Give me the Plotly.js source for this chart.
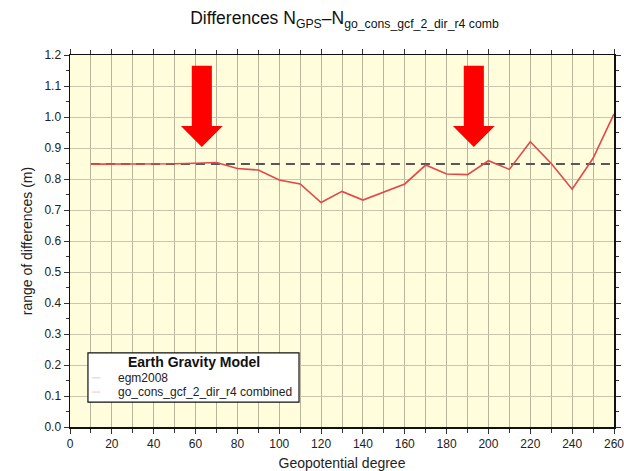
<!DOCTYPE html>
<html>
<head>
<meta charset="utf-8">
<script src="https://cdn.plot.ly/plotly-3.0.1.min.js"></script>
<style>html,body{margin:0;padding:0;background:#fff;}#chart{width:624px;height:471px;}</style>
</head>
<body>
<div id="chart"></div>
<script>
// Data
const degrees = [10,20,30,40,50,60,70,80,90,100,110,120,130,140,150,160,170,180,190,200,210,220,230,240,250,260];
const egm2008 = [0.848,0.848,0.848,0.848,0.848,0.848,0.848,0.848,0.848,0.848,0.848,0.848,0.848,0.848,0.848,0.848,0.848,0.848,0.848,0.848,0.848,0.848,0.848,0.848,0.848,0.848];
const goCons = [0.848,0.848,0.848,0.849,0.849,0.851,0.853,0.834,0.829,0.797,0.784,0.724,0.760,0.732,0.759,0.784,0.845,0.816,0.814,0.859,0.831,0.920,0.850,0.767,0.867,1.010];
const seriesNames = ["egm2008", "go_cons_gcf_2_dir_r4 combined"];
const legendTitle = "Earth Gravity Model";
const legendSwatch = ['#d0d0d0', '#ffc0c0'];
// arrow markers (degree position, tip value)
const arrowDeg = [63, 193];
const arrowTip = [0.903, 0.903];

const arrowShapes = arrowDeg.map((d, i) => {
  const tip = arrowTip[i];
  const top = tip + 0.262, neck = tip + 0.068;
  const sw = 4.8, hw = 10;
  return {
    type: 'path', xref: 'x', yref: 'y', layer: 'above',
    path: `M ${d-sw},${top} L ${d+sw},${top} L ${d+sw},${neck} L ${d+hw},${neck} L ${d},${tip} L ${d-hw},${neck} L ${d-sw},${neck} Z`,
    fillcolor: '#ff0000', line: {width: 0}
  };
});

// custom legend box (paper coords within plot domain)
const legBox = {x0: 0.033, x1: 0.421, y0: 0.067, y1: 0.199};
const entryY = [0.132, 0.094];
const legendShapes = [
  {type: 'rect', xref: 'paper', yref: 'paper', layer: 'above',
   x0: legBox.x0, x1: legBox.x1, y0: legBox.y0, y1: legBox.y1,
   fillcolor: '#ffffff', line: {color: '#111', width: 1.2}}
].concat(seriesNames.map((n, i) => ({
  type: 'line', xref: 'paper', yref: 'paper', layer: 'above',
  x0: 0.040, x1: 0.056, y0: entryY[i], y1: entryY[i],
  line: {color: legendSwatch[i], width: 1}
})));
const legendAnns = [
  {xref: 'paper', yref: 'paper', x: 0.228, y: 0.176, xanchor: 'center', yanchor: 'middle',
   text: '<b>' + legendTitle + '</b>', showarrow: false, font: {size: 14, color: '#111'}}
].concat(seriesNames.map((n, i) => ({
  xref: 'paper', yref: 'paper', x: 0.084, y: entryY[i], xanchor: 'left', yanchor: 'middle',
  text: n, showarrow: false, font: {size: 12, color: '#222'}
})));

const traces = [
  {x: degrees, y: egm2008, mode: 'lines', name: seriesNames[0], showlegend: false,
   line: {color: '#575757', width: 2, dash: '9px,6px'}},
  {x: degrees, y: goCons, mode: 'lines', name: seriesNames[1], showlegend: false,
   line: {color: '#e0484a', width: 1.6}}
];

const font = 'Liberation Sans, Arial, sans-serif';
const layout = {
  width: 624, height: 471,
  margin: {l: 70, r: 10, t: 55, b: 44},
  paper_bgcolor: '#ffffff', plot_bgcolor: '#fffddc',
  font: {family: font, size: 12, color: '#222'},
  showlegend: false,
  title: {text: 'Differences N<sub>GPS</sub>–N<sub>go_cons_gcf_2_dir_r4 comb</sub>',
          x: 0.552, xanchor: 'center', y: 0.962, yanchor: 'middle',
          font: {family: font, size: 17.5, color: '#111'}},
  xaxis: {range: [0, 260], dtick: 20, tick0: 0, ticks: 'outside', ticklen: 5,
          tickcolor: '#333', showline: true, linecolor: '#111', linewidth: 1.5, mirror: 'ticks',
          showgrid: true, gridcolor: '#b8b59c', gridwidth: 1, zeroline: false,
          ticklabeloverflow: 'allow',
          minor: {dtick: 10, tick0: 0, ticks: 'outside', ticklen: 4, tickcolor: '#333', showgrid: true, gridcolor: '#b8b59c', gridwidth: 1},
          tickfont: {size: 12, color: '#222'},
          title: {text: 'Geopotential degree', standoff: 8, font: {size: 14, color: '#222'}}},
  yaxis: {range: [0, 1.2], dtick: 0.1, tick0: 0, tickformat: '.1f', ticks: 'outside', ticklen: 5,
          tickcolor: '#333', showline: true, linecolor: '#111', linewidth: 1.5, mirror: 'ticks',
          showgrid: true, gridcolor: '#c9c6ad', gridwidth: 1, zeroline: false,
          minor: {dtick: 0.05, tick0: 0, ticks: 'outside', ticklen: 3, tickcolor: '#333', showgrid: false},
          tickfont: {size: 12, color: '#222'},
          title: {text: 'range of differences (m)', standoff: 8, font: {size: 14, color: '#222'}}},
  shapes: arrowShapes.concat(legendShapes),
  annotations: legendAnns
};

Plotly.newPlot('chart', traces, layout, {displayModeBar: false, staticPlot: true});
</script>
</body>
</html>
